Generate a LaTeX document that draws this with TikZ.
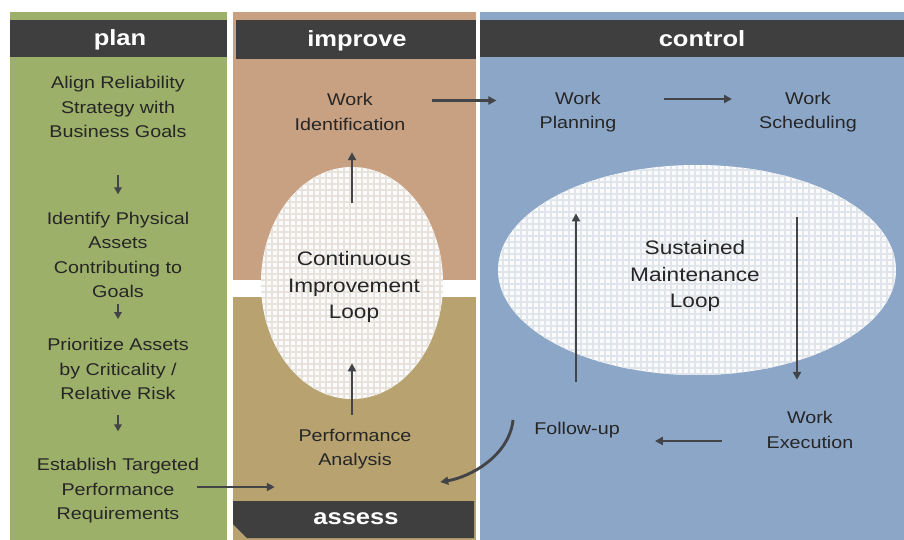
\documentclass[tikz,border=0pt]{standalone}
\usepackage{fontspec}
\setmainfont{Liberation Sans}[FakeStretch=1.16]
\usetikzlibrary{arrows.meta,calc}
\definecolor{plangreen}{HTML}{9DB06A}
\definecolor{improveorange}{HTML}{C8A082}
\definecolor{assesstan}{HTML}{B8A370}
\definecolor{controlblue}{HTML}{8CA6C8}
\definecolor{hdrgray}{HTML}{3F3F3F}
\definecolor{textdark}{HTML}{262626}
\definecolor{arrowgray}{HTML}{424447}
\definecolor{gridbg}{HTML}{FBFBFB}
\definecolor{gridlineL}{HTML}{E8E2DC}
\definecolor{gridlineR}{HTML}{E0E5EC}
\begin{document}
\begin{tikzpicture}[x=1pt,y=-1pt,
  txt/.style={align=center,text=textdark,font=\fontsize{17}{24.5}\selectfont,inner sep=2pt},
  hdr/.style={text=white,font=\bfseries\fontsize{22}{26}\selectfont,inner sep=0pt},
  looptxt/.style={align=center,text=textdark,font=\fontsize{19.5}{26.5}\selectfont,inner sep=2pt},
  arr/.style={draw=arrowgray,line width=2.9pt,-{Triangle[length=8pt,width=8pt]}},
  smallarr/.style={draw=arrowgray,line width=2.8pt,-{Triangle[length=7pt,width=7.5pt]}},
  gridL/.style={draw=gridlineL,line width=1.3pt},
  gridR/.style={draw=gridlineR,line width=1.3pt}
]
\useasboundingbox (0,0) rectangle (904,540);
\fill[white] (0,0) rectangle (904,540);
% columns
\fill[plangreen] (10,12) rectangle (227,540);
\fill[hdrgray] (10,20) rectangle (227,57);
\fill[improveorange] (233,12) rectangle (476,280);
\fill[hdrgray] (236,20) rectangle (476,59);
\fill[assesstan] (233,297) rectangle (476,540);
\fill[hdrgray] (233,501) -- (474,501) -- (474,538) -- (247,538) -- (233,524) -- cycle;
\fill[controlblue] (480,12) rectangle (904,540);
\fill[hdrgray] (480,20) rectangle (904,57);
% left ellipse
\begin{scope}
  \clip (352,283) ellipse [x radius=91pt, y radius=116pt];
  \fill[gridbg] (258,164) rectangle (446,402);
  \foreach \i in {0,...,31} { \draw[gridL] ({260+6*\i},164) -- ++(0,238); }
  \foreach \j in {0,...,39} { \draw[gridL] (258,{166+6*\j}) -- ++(188,0); }
\end{scope}
% right ellipse
\begin{scope}
  \clip (697,270) ellipse [x radius=199pt, y radius=105pt];
  \fill[gridbg] (495,162) rectangle (899,378);
  \foreach \i in {0,...,67} { \draw[gridR] ({497+6*\i},162) -- ++(0,216); }
  \foreach \j in {0,...,36} { \draw[gridR] (495,{164+6*\j}) -- ++(404,0); }
\end{scope}
% headers
\node[hdr] (hplan) at (120,40) {plan};
\node[hdr] (himprove) at (357,41) {improve};
\node[hdr] (hcontrol) at (702,39) {control};
\node[hdr] (hassess) at (356,519) {assess};
% plan texts
\node[txt] (A) at (118,107) {Align Reliability\\Strategy with\\Business Goals};
\node[txt] (B) at (118,255) {Identify Physical\\Assets\\Contributing to\\Goals};
\node[txt] (C) at (118,369) {Prioritize Assets\\by Criticality /\\Relative Risk};
\node[txt] (D) at (118,491) {Establish Targeted\\Performance\\Requirements};
% process texts
\node[txt] (WI) at (350,112) {Work\\Identification};
\node[txt] (WP) at (578,112) {Work\\Planning};
\node[txt] (WS) at (808,112) {Work\\Scheduling};
\node[txt] (WE) at (810,430) {Work\\Execution};
\node[txt] (FU) at (577,430) {Follow-up};
\node[txt] (PA) at (355,449) {Performance\\Analysis};
\node[looptxt] (CIL) at (354,287) {Continuous\\Improvement\\Loop};
\node[looptxt] (SML) at (695,276) {Sustained\\Maintenance\\Loop};
% plan arrows
\draw[smallarr,shorten <=35pt,shorten >=15.5pt] (A.south) -- (B.north);
\draw[smallarr,shorten <=4pt,shorten >=17pt] (B.south) -- (C.north);
\draw[smallarr,shorten <=13.5pt,shorten >=25pt] (C.south) -- (D.north);
% process arrows
\draw[arr,shorten <=24pt,shorten >=41pt] ([yshift=11.5pt]WI.east) -- ([yshift=11.5pt]WP.west);
\draw[arr,shorten <=45.5pt,shorten >=25pt] ([yshift=13pt]WP.east) -- ([yshift=13pt]WS.west);
\draw[arr,shorten <=82.5pt,shorten >=29.5pt] ([xshift=-11pt]WS.south) -- ([xshift=-13pt]WE.north);
\draw[arr,shorten <=43pt,shorten >=33pt] ([yshift=-11pt]WE.west) -- ([yshift=-11pt]FU.east);
\draw[arr,shorten <=38pt,shorten >=79pt] ([xshift=-1pt]FU.north) -- ([xshift=-2pt]WP.south);
\draw[arr] ([xshift=-19pt,yshift=10pt]FU.west) .. controls +(-4,36) and +(30,-5) .. ([xshift=26.6pt,yshift=-33pt]PA.east);
\draw[arr,shorten <=11.5pt,shorten >=38.5pt] ([xshift=-3pt]PA.north) -- ([xshift=-2pt]CIL.south);
\draw[arr,shorten <=46pt,shorten >=19.5pt] ([xshift=-2pt]CIL.north) -- ([xshift=2pt]WI.south);
\draw[arr,shorten <=-4.6pt,shorten >=21.6pt] ([yshift=4pt]D.east) -- ([yshift=-38pt]PA.west);
\end{tikzpicture}
\end{document}
